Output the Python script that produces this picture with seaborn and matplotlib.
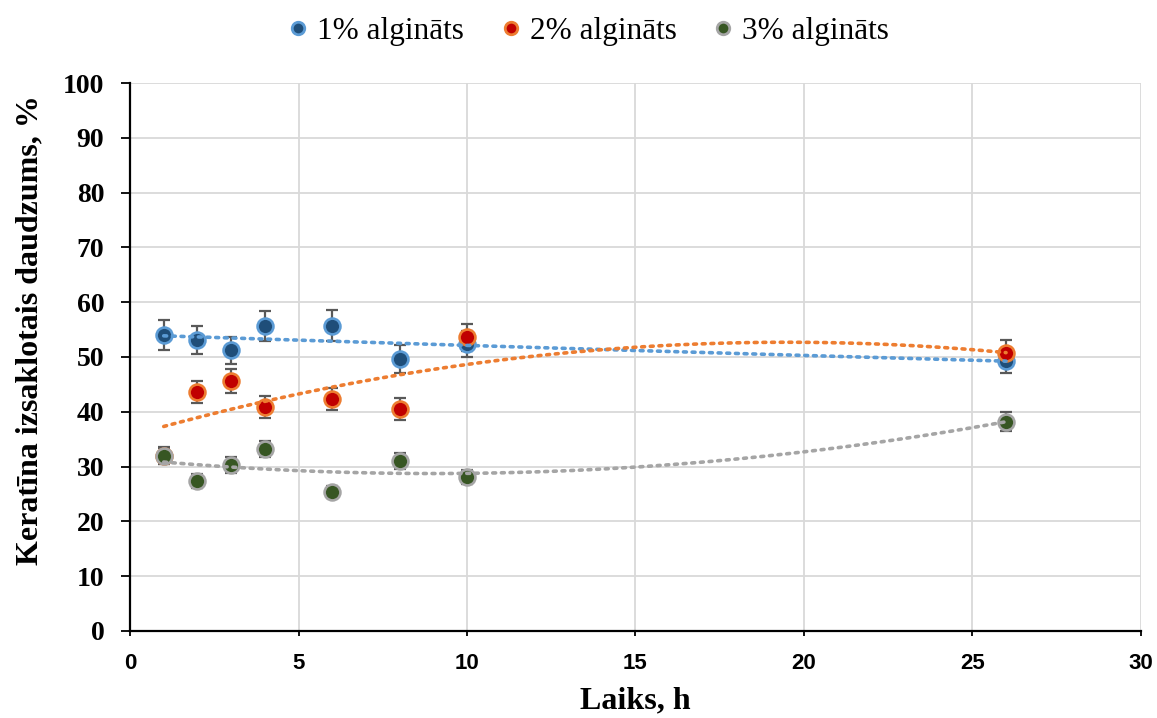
import numpy as np
import pandas as pd
import matplotlib
matplotlib.use("Agg")
import matplotlib.pyplot as plt
import seaborn as sns

sns.set_theme(style="white")
plt.rcParams['font.family'] = ['Liberation Serif', 'DejaVu Serif']
plt.rcParams['text.color'] = 'black'
plt.rcParams['axes.labelcolor'] = 'black'
plt.rcParams['xtick.color'] = 'black'
plt.rcParams['ytick.color'] = 'black'

series_names = ["1% algināts", "2% algināts", "3% algināts"]
time_h = [1, 2, 3, 4, 6, 8, 10, 26]
val_1 = [54.0, 53.1, 51.2, 55.7, 55.7, 49.6, 52.4, 49.3]
err_1 = [2.7, 2.5, 2.5, 2.7, 2.8, 2.5, 2.4, 2.3]
val_2 = [32.0, 43.6, 45.6, 40.9, 42.4, 40.5, 53.6, 50.7]
err_2 = [1.5, 2.0, 2.2, 2.0, 2.0, 2.0, 2.5, 2.4]
val_3 = [31.9, 27.4, 30.3, 33.2, 25.3, 31.0, 28.1, 38.2]
err_3 = [1.5, 1.3, 1.4, 1.5, 1.1, 1.4, 1.2, 1.7]

x_label = "Laiks, h"
y_label = "Keratīna izsaklotais daudzums, %"

face_colors = ["#1F4E79", "#C00000", "#375623"]
edge_colors = ["#5B9BD5", "#ED7D31", "#A5A5A5"]
trend_colors = ["#5B9BD5", "#ED7D31", "#A5A5A5"]

rows = []
for name, vals, errs in zip(series_names, [val_1, val_2, val_3], [err_1, err_2, err_3]):
    for t, v, e in zip(time_h, vals, errs):
        rows.append({"Laiks": t, "Vertiba": v, "Kluda": e, "Serija": name})
df = pd.DataFrame(rows)

fig = plt.figure(figsize=(11.57, 7.18), dpi=100)
ax = fig.add_axes([0.1124, 0.1212, 0.8736, 0.7632])

for i, name in enumerate(series_names):
    sub = df[df["Serija"] == name]
    ax.errorbar(sub["Laiks"], sub["Vertiba"], yerr=sub["Kluda"], fmt="none",
                ecolor="#595959", elinewidth=1.6, capsize=4.5, capthick=1.6, zorder=2)

for i, name in enumerate(series_names):
    sub = df[df["Serija"] == name]
    sns.scatterplot(data=sub, x="Laiks", y="Vertiba", ax=ax, s=130,
                    color=face_colors[i], edgecolor=edge_colors[i], linewidth=1.9,
                    zorder=3, label=name, legend=False)

for i, name in enumerate(series_names):
    sub = df[df["Serija"] == name]
    sns.regplot(data=sub, x="Laiks", y="Vertiba", ax=ax, order=2, ci=None,
                scatter=False, truncate=True,
                line_kws=dict(color=trend_colors[i], linewidth=2.6,
                              linestyle=(0, (0.8, 1.6)), dash_capstyle="round",
                              zorder=4))

ax.set_xlim(0, 30)
ax.set_ylim(0, 100)
ax.set_xticks(range(0, 31, 5))
ax.set_yticks(range(0, 101, 10))
ax.grid(True, color="#D9D9D9", linewidth=1.3)
ax.set_axisbelow(True)
for s in ["top", "right"]:
    ax.spines[s].set_visible(False)
for s in ["left", "bottom"]:
    ax.spines[s].set_color("black")
    ax.spines[s].set_linewidth(1.6)
ax.tick_params(axis="y", which="major", direction="out", length=6.5, width=1.3,
               color="black", left=True, pad=12)
ax.tick_params(axis="x", which="major", direction="out", length=3.6, width=1.3,
               color="black", bottom=True, pad=12)
for lab in ax.get_yticklabels():
    lab.set_fontsize(20)
    lab.set_fontweight("bold")
for lab in ax.get_xticklabels():
    lab.set_fontsize(16)
    lab.set_fontweight("bold")
    lab.set_family(["Liberation Sans", "DejaVu Sans"])
ax.set_xlabel(x_label, fontsize=23, fontweight="bold", labelpad=9)
ax.set_ylabel(y_label, fontsize=23, fontweight="bold")
ax.yaxis.set_label_coords(-0.085, 0.549)

handles = [plt.Line2D([], [], marker="o", linestyle="none", markersize=9,
                      markerfacecolor=face_colors[i], markeredgecolor=edge_colors[i],
                      markeredgewidth=2) for i in range(3)]
fig.legend(handles, series_names, loc="upper center", bbox_to_anchor=(0.505, 1.015),
           ncol=3, frameon=False, fontsize=22.5, handletextpad=0.0, columnspacing=0.9,
           handlelength=1.2)

fig.savefig("out.png", dpi=100)
